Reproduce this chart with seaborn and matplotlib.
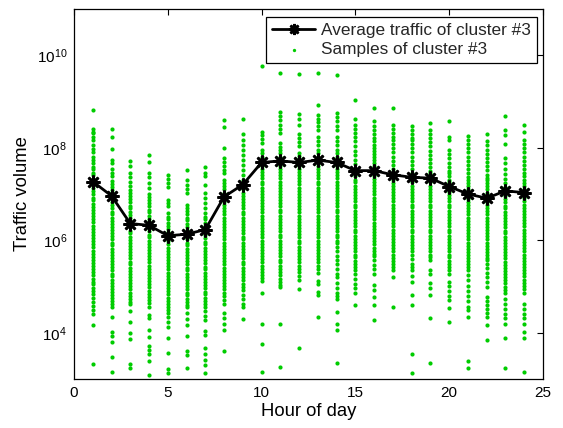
import matplotlib
matplotlib.use("Agg")
import matplotlib.pyplot as plt
import matplotlib.ticker as mticker
import numpy as np
import pandas as pd
import seaborn as sns

# ---------------- data ----------------
hours = list(range(1, 25))
avg_traffic = [1.86e7, 9.1e6, 2.3e6, 2.1e6, 1.25e6, 1.35e6, 1.7e6, 8.7e6, 1.6e7, 4.8e7,
               5.2e7, 4.8e7, 5.4e7, 4.8e7, 3.2e7, 3.2e7, 2.6e7, 2.3e7, 2.2e7, 1.45e7,
               1.0e7, 8.1e6, 1.17e7, 1.07e7]

# samples per hour, given as log10(traffic volume)
s_h01 = [8.82, 8.40, 8.35, 8.31, 8.24, 8.16, 8.05, 7.97, 7.90, 7.81, 7.73, 7.66, 7.59, 7.53, 7.46, 7.40, 7.33, 7.27, 7.19, 7.12, 7.06, 6.99, 6.92, 6.86, 6.79, 6.72, 6.66, 6.58, 6.52, 6.45, 6.39, 6.31, 6.25, 6.18, 6.11, 6.04, 5.98, 5.91, 5.85, 5.77, 5.71, 5.64, 5.58, 5.51, 5.44, 5.37, 5.31, 5.24, 5.17, 5.10, 5.06, 4.96, 4.90, 4.83, 4.75, 4.66, 4.57, 4.49, 4.40, 4.17, 3.32]
s_h02 = [8.40, 8.23, 7.97, 7.74, 7.66, 7.55, 7.46, 7.38, 7.29, 7.21, 7.16, 7.09, 7.02, 6.96, 6.89, 6.83, 6.76, 6.69, 6.62, 6.56, 6.49, 6.42, 6.36, 6.29, 6.22, 6.15, 6.09, 6.02, 5.95, 5.89, 5.82, 5.75, 5.68, 5.62, 5.55, 5.49, 5.42, 5.35, 5.28, 5.22, 5.15, 5.08, 5.02, 4.95, 4.88, 4.82, 4.75, 4.69, 4.62, 4.56, 4.35, 4.02, 3.92, 3.81, 3.48, 3.16]
s_h03 = [7.72, 7.61, 7.45, 7.36, 7.27, 7.18, 7.09, 7.02, 6.95, 6.89, 6.82, 6.75, 6.69, 6.62, 6.55, 6.48, 6.42, 6.35, 6.28, 6.21, 6.15, 6.08, 6.01, 5.95, 5.88, 5.81, 5.74, 5.68, 5.61, 5.54, 5.48, 5.41, 5.34, 5.27, 5.21, 5.14, 5.07, 5.01, 4.94, 4.87, 4.80, 4.74, 4.67, 4.63, 4.47, 4.24, 4.00, 3.86, 3.32, 3.23]
s_h04 = [7.85, 7.70, 7.45, 7.36, 7.24, 7.12, 7.00, 6.93, 6.86, 6.80, 6.73, 6.66, 6.60, 6.53, 6.46, 6.39, 6.33, 6.26, 6.19, 6.12, 6.06, 5.99, 5.92, 5.86, 5.79, 5.72, 5.65, 5.59, 5.52, 5.45, 5.38, 5.32, 5.25, 5.18, 5.11, 5.05, 4.98, 4.91, 4.84, 4.78, 4.71, 4.64, 4.56, 4.38, 4.31, 4.07, 3.91, 3.71, 3.63, 3.55, 3.39, 3.08]
s_h05 = [7.41, 7.33, 7.24, 7.16, 6.87, 6.80, 6.73, 6.58, 6.51, 6.45, 6.38, 6.31, 6.25, 6.18, 6.11, 6.04, 5.98, 5.91, 5.84, 5.77, 5.71, 5.64, 5.57, 5.50, 5.44, 5.37, 5.30, 5.23, 5.17, 5.10, 5.03, 4.96, 4.90, 4.83, 4.76, 4.69, 4.62, 4.55, 4.49, 4.42, 4.35, 4.24, 4.13, 3.89, 3.57, 3.21, 3.12]
s_h06 = [7.51, 7.30, 7.20, 7.11, 7.03, 6.76, 6.70, 6.63, 6.56, 6.49, 6.43, 6.36, 6.29, 6.22, 6.16, 6.09, 6.02, 5.95, 5.89, 5.82, 5.75, 5.68, 5.62, 5.55, 5.48, 5.41, 5.35, 5.28, 5.21, 5.14, 5.08, 5.01, 4.94, 4.87, 4.81, 4.74, 4.67, 4.60, 4.56, 4.42, 4.30, 4.17, 3.93, 3.61, 3.52, 3.24]
s_h07 = [7.59, 7.46, 7.38, 7.20, 7.02, 6.91, 6.80, 6.69, 6.58, 6.51, 6.45, 6.38, 6.31, 6.24, 6.18, 6.11, 6.04, 5.97, 5.91, 5.84, 5.77, 5.70, 5.64, 5.57, 5.50, 5.43, 5.37, 5.30, 5.23, 5.16, 5.10, 5.03, 4.96, 4.89, 4.83, 4.76, 4.69, 4.62, 4.56, 4.46, 4.36, 4.27, 4.04, 3.95, 3.68, 3.54, 3.42, 3.30, 3.12]
s_h08 = [8.59, 8.44, 8.00, 7.77, 7.70, 7.61, 7.52, 7.45, 7.30, 7.23, 7.17, 7.10, 7.03, 6.96, 6.90, 6.83, 6.76, 6.69, 6.63, 6.56, 6.49, 6.42, 6.36, 6.29, 6.22, 6.15, 6.09, 6.02, 5.95, 5.88, 5.82, 5.75, 5.68, 5.61, 5.55, 5.48, 5.41, 5.34, 5.28, 5.21, 5.14, 5.07, 5.01, 4.94, 4.87, 4.80, 4.71, 4.63, 4.43, 4.31, 4.20, 4.07, 3.60]
s_h09 = [8.62, 8.30, 8.17, 8.06, 7.95, 7.84, 7.73, 7.62, 7.51, 7.41, 7.30, 7.23, 7.16, 7.10, 7.03, 6.96, 6.89, 6.83, 6.76, 6.69, 6.62, 6.56, 6.49, 6.42, 6.35, 6.29, 6.22, 6.15, 6.08, 6.02, 5.95, 5.88, 5.81, 5.75, 5.68, 5.61, 5.54, 5.48, 5.41, 5.34, 5.27, 5.20, 5.13, 5.06, 4.99, 4.92, 4.82, 4.72, 4.63, 4.56, 4.29]
s_h10 = [9.77, 8.35, 8.27, 8.18, 8.10, 7.95, 7.88, 7.81, 7.75, 7.68, 7.61, 7.54, 7.48, 7.41, 7.34, 7.27, 7.21, 7.14, 7.07, 7.00, 6.94, 6.87, 6.80, 6.73, 6.67, 6.60, 6.53, 6.46, 6.40, 6.33, 6.26, 6.19, 6.13, 6.06, 5.99, 5.92, 5.86, 5.79, 5.72, 5.65, 5.59, 5.52, 5.45, 5.38, 5.31, 5.24, 5.18, 5.12, 4.85, 4.18, 3.75, 3.15]
s_h11 = [9.61, 8.77, 8.68, 8.59, 8.50, 8.41, 8.31, 8.10, 8.02, 7.95, 7.88, 7.81, 7.74, 7.68, 7.61, 7.54, 7.47, 7.41, 7.34, 7.27, 7.20, 7.14, 7.07, 7.00, 6.93, 6.87, 6.80, 6.73, 6.66, 6.60, 6.53, 6.46, 6.39, 6.33, 6.26, 6.19, 6.12, 6.06, 5.99, 5.92, 5.85, 5.79, 5.72, 5.65, 5.58, 5.52, 5.45, 5.38, 5.31, 5.24, 5.17, 5.10, 5.03, 4.99, 4.18, 3.25]
s_h12 = [9.60, 8.73, 8.62, 8.50, 8.30, 8.21, 8.12, 8.03, 7.88, 7.82, 7.75, 7.68, 7.61, 7.55, 7.48, 7.41, 7.34, 7.28, 7.21, 7.14, 7.07, 7.01, 6.94, 6.87, 6.80, 6.74, 6.67, 6.60, 6.53, 6.47, 6.40, 6.33, 6.26, 6.20, 6.13, 6.06, 5.99, 5.93, 5.86, 5.79, 5.72, 5.66, 5.59, 5.52, 5.45, 5.38, 5.31, 5.23, 5.14, 4.94, 3.66]
s_h13 = [9.61, 8.93, 8.71, 8.63, 8.55, 8.47, 8.39, 8.24, 8.14, 8.05, 7.95, 7.88, 7.81, 7.75, 7.68, 7.61, 7.54, 7.48, 7.41, 7.34, 7.27, 7.21, 7.14, 7.07, 7.00, 6.94, 6.87, 6.80, 6.73, 6.67, 6.60, 6.53, 6.46, 6.40, 6.33, 6.26, 6.19, 6.13, 6.06, 5.99, 5.92, 5.86, 5.79, 5.72, 5.65, 5.59, 5.52, 5.45, 5.38, 5.30, 5.12, 5.05, 4.89, 4.82, 4.33]
s_h14 = [9.58, 8.76, 8.66, 8.57, 8.48, 8.39, 8.24, 8.14, 8.05, 7.95, 7.88, 7.81, 7.74, 7.68, 7.61, 7.54, 7.47, 7.41, 7.34, 7.27, 7.20, 7.14, 7.07, 7.00, 6.93, 6.87, 6.80, 6.73, 6.66, 6.60, 6.53, 6.46, 6.39, 6.33, 6.26, 6.19, 6.12, 6.06, 5.99, 5.93, 5.86, 5.76, 5.66, 5.57, 5.48, 5.38, 5.28, 5.20, 5.08, 4.97, 4.86, 4.79, 4.74, 4.44, 4.19, 4.07, 3.34]
s_h15 = [9.04, 8.63, 8.50, 8.41, 8.32, 8.24, 8.14, 8.04, 7.94, 7.84, 7.74, 7.64, 7.55, 7.45, 7.38, 7.31, 7.25, 7.18, 7.11, 7.04, 6.98, 6.91, 6.84, 6.77, 6.71, 6.64, 6.57, 6.50, 6.44, 6.37, 6.30, 6.23, 6.17, 6.10, 6.03, 5.96, 5.90, 5.83, 5.76, 5.69, 5.63, 5.56, 5.49, 5.43, 5.36, 5.26, 5.16, 5.06, 4.96, 4.85, 4.60]
s_h16 = [8.86, 8.57, 8.48, 8.39, 8.30, 8.21, 8.14, 8.07, 8.00, 7.93, 7.87, 7.80, 7.73, 7.66, 7.60, 7.53, 7.46, 7.39, 7.33, 7.26, 7.19, 7.12, 7.06, 6.99, 6.92, 6.85, 6.79, 6.72, 6.65, 6.58, 6.52, 6.45, 6.38, 6.31, 6.25, 6.18, 6.11, 6.04, 5.98, 5.91, 5.84, 5.77, 5.70, 5.65, 5.57, 5.47, 5.37, 5.28, 5.03, 4.92, 4.78, 4.61, 4.27]
s_h17 = [8.86, 8.50, 8.41, 8.32, 8.24, 8.17, 8.08, 7.99, 7.90, 7.81, 7.72, 7.63, 7.54, 7.45, 7.38, 7.31, 7.24, 7.18, 7.11, 7.04, 6.97, 6.91, 6.84, 6.77, 6.70, 6.64, 6.57, 6.50, 6.43, 6.37, 6.30, 6.23, 6.16, 6.10, 6.03, 5.96, 5.89, 5.83, 5.76, 5.69, 5.62, 5.56, 5.49, 5.42, 5.36, 5.21, 4.56]
s_h18 = [8.46, 8.38, 8.30, 8.22, 8.17, 8.08, 7.99, 7.90, 7.81, 7.72, 7.63, 7.54, 7.45, 7.38, 7.31, 7.25, 7.18, 7.11, 7.04, 6.98, 6.91, 6.84, 6.77, 6.71, 6.64, 6.57, 6.50, 6.44, 6.37, 6.30, 6.23, 6.17, 6.10, 6.03, 5.96, 5.90, 5.83, 5.76, 5.69, 5.60, 5.49, 5.42, 5.35, 5.22, 5.10, 4.82, 4.60, 3.55, 3.12]
s_h19 = [8.53, 8.39, 8.30, 8.21, 8.12, 8.03, 7.94, 7.85, 7.76, 7.67, 7.58, 7.50, 7.45, 7.38, 7.31, 7.25, 7.18, 7.11, 7.04, 6.98, 6.91, 6.84, 6.77, 6.71, 6.64, 6.57, 6.50, 6.44, 6.37, 6.30, 6.23, 6.17, 6.10, 6.03, 5.96, 5.90, 5.83, 5.76, 5.69, 5.63, 5.57, 5.36, 5.28, 5.07, 4.96, 4.82, 4.31, 3.34]
s_h20 = [8.58, 8.24, 8.17, 7.95, 7.86, 7.77, 7.68, 7.59, 7.50, 7.45, 7.38, 7.31, 7.25, 7.18, 7.11, 7.04, 6.98, 6.91, 6.84, 6.77, 6.71, 6.64, 6.57, 6.50, 6.44, 6.37, 6.30, 6.23, 6.17, 6.10, 6.03, 5.96, 5.90, 5.83, 5.76, 5.69, 5.63, 5.56, 5.49, 5.42, 5.35, 5.28, 5.10, 5.02, 4.90, 4.79, 4.71, 4.53, 4.24]
s_h21 = [8.26, 8.17, 8.08, 7.99, 7.90, 7.81, 7.72, 7.63, 7.54, 7.45, 7.37, 7.30, 7.23, 7.17, 7.10, 7.03, 6.96, 6.90, 6.83, 6.76, 6.69, 6.63, 6.56, 6.49, 6.42, 6.36, 6.29, 6.22, 6.15, 6.09, 6.02, 5.95, 5.88, 5.82, 5.75, 5.68, 5.61, 5.55, 5.48, 5.43, 5.36, 5.25, 5.14, 5.02, 4.91, 4.80, 4.68, 4.56, 4.49, 4.35, 3.39, 3.24]
s_h22 = [8.29, 8.14, 8.05, 7.96, 7.87, 7.78, 7.69, 7.60, 7.51, 7.42, 7.35, 7.30, 7.23, 7.17, 7.10, 7.03, 6.96, 6.90, 6.83, 6.76, 6.69, 6.63, 6.56, 6.49, 6.42, 6.36, 6.29, 6.22, 6.15, 6.09, 6.02, 5.95, 5.88, 5.82, 5.75, 5.68, 5.61, 5.57, 5.48, 5.39, 5.29, 5.20, 5.10, 4.99, 4.78, 4.69, 4.60, 4.51, 4.42, 4.35, 4.17, 3.84]
s_h23 = [8.68, 8.39, 8.28, 8.08, 7.77, 7.66, 7.55, 7.44, 7.33, 7.24, 7.16, 7.09, 7.02, 6.96, 6.89, 6.82, 6.75, 6.69, 6.62, 6.55, 6.48, 6.42, 6.35, 6.28, 6.21, 6.15, 6.08, 6.01, 5.95, 5.88, 5.81, 5.74, 5.68, 5.61, 5.54, 5.47, 5.41, 5.34, 5.27, 5.20, 5.14, 5.07, 5.00, 4.92, 4.85, 4.74, 4.63, 4.52, 4.41, 4.31, 4.20, 3.88, 3.23]
s_h24 = [8.50, 8.35, 8.17, 8.08, 7.99, 7.90, 7.81, 7.72, 7.63, 7.54, 7.45, 7.38, 7.31, 7.24, 7.18, 7.11, 7.04, 6.97, 6.91, 6.84, 6.77, 6.70, 6.64, 6.57, 6.50, 6.43, 6.37, 6.30, 6.23, 6.16, 6.10, 6.03, 5.96, 5.89, 5.83, 5.76, 5.69, 5.62, 5.56, 5.49, 5.42, 5.35, 5.29, 5.22, 5.15, 5.08, 5.01, 4.94, 4.85, 4.63, 4.52, 4.41, 4.31, 4.20, 4.02, 3.88, 3.16]

sample_lists = [s_h01, s_h02, s_h03, s_h04, s_h05, s_h06, s_h07, s_h08, s_h09, s_h10, s_h11, s_h12,
                s_h13, s_h14, s_h15, s_h16, s_h17, s_h18, s_h19, s_h20, s_h21, s_h22, s_h23, s_h24]

samples = pd.DataFrame(
    [(h, 10.0 ** v) for h, lst in zip(hours, sample_lists) for v in lst],
    columns=["hour", "traffic"],
)
avg_df = pd.DataFrame({"hour": hours, "traffic": avg_traffic})

# ---------------- style ----------------
sns.set_theme(style="white")
plt.rcParams["font.family"] = ["Liberation Sans", "DejaVu Sans"]
plt.rcParams["mathtext.fontset"] = "custom"
plt.rcParams["mathtext.rm"] = "Liberation Sans"
plt.rcParams["mathtext.default"] = "regular"

fig = plt.figure(figsize=(5.63, 4.28), dpi=100)
ax = fig.add_axes([74 / 563, 1 - 379 / 428, (543 - 74) / 563, (379 - 9) / 428])

green = "#00cc00"
sns.scatterplot(data=samples, x="hour", y="traffic", ax=ax, color=green, s=9,
                linewidth=0, marker="o", label="Samples of cluster #3", zorder=2)
sns.lineplot(data=avg_df, x="hour", y="traffic", ax=ax, color="black", linewidth=2,
             marker=(8, 2, 0), markersize=10, markeredgewidth=1.9, markeredgecolor="black",
             label="Average traffic of cluster #3", zorder=3)

ax.set_yscale("log")
ax.set_xlim(0, 25)
ax.set_ylim(1e3, 1e11)
ax.set_xticks([0, 5, 10, 15, 20, 25])
ax.yaxis.set_major_locator(mticker.FixedLocator([1e4, 1e6, 1e8, 1e10]))
ax.yaxis.set_minor_locator(mticker.NullLocator())
ax.yaxis.set_major_formatter(mticker.FuncFormatter(
    lambda v, p: r"$10^{%d}$" % int(round(np.log10(v)))))

ax.tick_params(axis="both", which="both", direction="in", top=True, right=True,
               length=4, width=0.8, color="black", labelsize=11, labelcolor="black", pad=5)
for sp in ax.spines.values():
    sp.set_color("black")
    sp.set_linewidth(0.9)

ax.set_xlabel("Hour of day", fontsize=13.3, color="black", labelpad=2)
ax.set_ylabel("Traffic volume", fontsize=13.3, color="black", labelpad=4)

handles, labels = ax.get_legend_handles_labels()
order = [labels.index("Average traffic of cluster #3"), labels.index("Samples of cluster #3")]
leg = ax.legend([handles[i] for i in order], [labels[i] for i in order],
                loc="upper right", bbox_to_anchor=(0.9875, 0.979), fontsize=12.4,
                frameon=True, fancybox=False, framealpha=1, edgecolor="black",
                handlelength=2.5, handletextpad=0.35, borderpad=0.35, labelspacing=0.25,
                borderaxespad=0.0, markerscale=0.8)
leg.get_frame().set_linewidth(0.9)

fig.savefig("out.png", dpi=100)
